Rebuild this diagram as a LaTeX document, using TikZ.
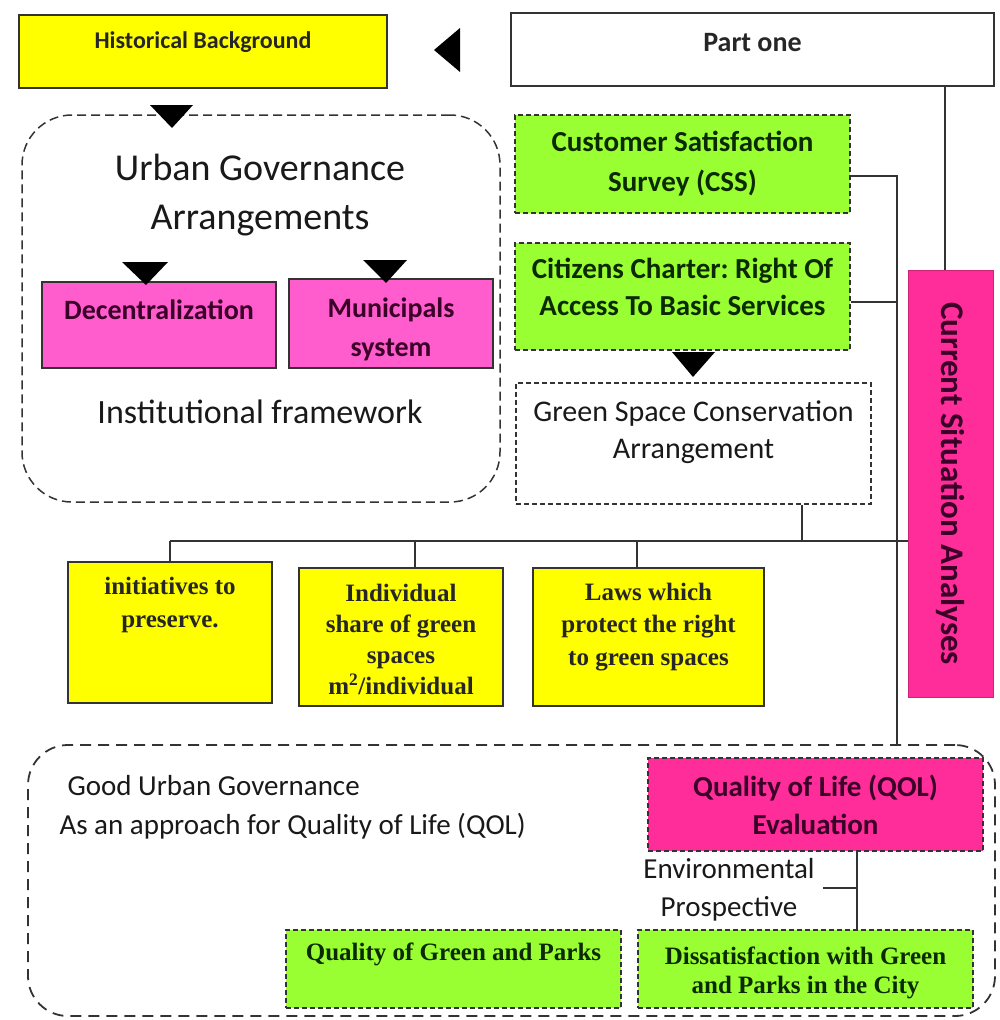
\documentclass[tikz,border=0pt]{standalone}
\usepackage{fontspec}
\usepackage{graphicx}
\setmainfont{Carlito}
\newfontfamily\tnr{Liberation Serif}
\definecolor{ylw}{HTML}{FFFF00}
\definecolor{lpink}{HTML}{FF5CCD}
\definecolor{hpink}{HTML}{FF2D9A}
\definecolor{lime}{HTML}{99FF33}
\definecolor{dgreen}{HTML}{0C2A00}
\definecolor{dpink}{HTML}{3A0028}
\definecolor{edge}{HTML}{333333}
\newcommand{\fs}[2]{\fontsize{#1}{#2}\selectfont}
\frenchspacing
\begin{document}
\begin{tikzpicture}[x=1pt,y=-1pt,
  solidbox/.style={draw=edge, line width=1.4pt, inner sep=0pt, align=center},
  dbox/.style={draw=edge, line width=1.2pt, dash pattern=on 5pt off 3pt, inner sep=0pt, align=center},
  bigdash/.style={draw=edge, line width=1.5pt, dash pattern=on 9pt off 5pt, inner sep=0pt},
  conn/.style={draw=edge, line width=1.2pt},
  tri/.style={fill=black},
  cal/.style={font=\bfseries\fs{28}{39}},
  tms/.style={font=\tnr\bfseries\fs{25}{31}},
]
\useasboundingbox (0,0) rectangle (999,1020);

% top row
\node[solidbox, fill=ylw, minimum width=368pt, minimum height=73pt, font=\bfseries\fs{24}{28}, text=black!85] (hist) at (203,51.5) {\raisebox{22pt}{Historical Background}};
\node[solidbox, fill=white, minimum width=483pt, minimum height=73pt, font=\bfseries\fs{28}{32}, text=black!85] (partone) at (752.5,49.5) {\raisebox{14pt}{Part one}};
\fill[tri] (434,50) -- (460,28) -- (460,72) -- cycle;

% Urban governance group
\node[bigdash, rounded corners=50pt, minimum width=478pt, minimum height=387pt] (ug) at (261,308.5) {};
\fill[tri] (150,105) -- (193,105) -- (172,128) -- cycle;
\node[align=center, font=\fs{38}{49}, text=black!90] (ugt) at (260,195) {Urban Governance\\Arrangements};
\node[solidbox, fill=lpink, minimum width=234pt, minimum height=86pt, cal, text=dpink] (dec) at (159,325)
  {\parbox[c][86pt][t]{234pt}{\centering\vspace*{18pt}Decentralization}};
\node[solidbox, fill=lpink, minimum width=204pt, minimum height=89pt, cal, text=dpink] (mun) at (391,323.5)
  {\parbox[c][89pt][t]{204pt}{\centering\vspace*{19pt}Municipals\\system}};
\fill[tri] (122,262) -- (168,262) -- (146,285) -- cycle;
\fill[tri] (363,260) -- (407,260) -- (386,283) -- cycle;
\node[font=\fs{34}{36}, text=black!90] (inst) at (260,412) {Institutional framework};

% right column
\node[dbox, fill=lime, minimum width=335pt, minimum height=98pt, font=\bfseries\fs{29}{40}, text=dgreen] (css) at (682.5,164) {Customer Satisfaction\\Survey (CSS)};
\node[dbox, fill=lime, minimum width=335pt, minimum height=107pt, font=\bfseries\fs{29}{37}, text=dgreen] (cit) at (682.5,296.5)
  {\parbox[c][107pt][t]{335pt}{\centering\vspace*{15pt}Citizens Charter: Right Of\\Access To Basic Services}};
\fill[tri] (672,352) -- (715,352) -- (693,377) -- cycle;
\node[dbox, fill=white, minimum width=355pt, minimum height=121pt, font=\fs{30}{37}, text=black!90] (gsc) at (693.5,443.5)
  {\parbox[c][121pt][t]{355pt}{\centering\vspace*{18pt}Green Space Conservation\\Arrangement}};
\node[solidbox, draw=hpink!80!black, line width=0.8pt, fill=hpink, minimum width=85pt, minimum height=427pt, font=\bfseries\fs{33}{36}, text=dpink] (csa) at (950.5,483.5) {\rotatebox{-90}{Current Situation Analyses}};

% yellow middle row
\node[solidbox, fill=ylw, minimum width=204pt, minimum height=141pt, tms, text=black!85] (ini) at (170,632.5)
  {\parbox[c][141pt][t]{204pt}{\centering\vspace*{15pt}initiatives to\\[2pt]preserve.}};
\node[solidbox, fill=ylw, minimum width=204pt, minimum height=138pt, tms, text=black!85] (ind) at (401,637)
  {\parbox[c][138pt][t]{204pt}{\centering\vspace*{16pt}Individual\\share of green\\spaces\\m\textsuperscript{2}/individual}};
\node[solidbox, fill=ylw, minimum width=231pt, minimum height=138pt, tms, font=\tnr\bfseries\fs{25}{32.5}, text=black!85] (law) at (648.5,637)
  {\parbox[c][138pt][t]{231pt}{\centering\vspace*{15pt}Laws which\\protect the right\\to green spaces}};

% bottom group
\node[bigdash, line width=1.8pt, dash pattern=on 11pt off 7pt, rounded corners=40pt, minimum width=967pt, minimum height=271pt] (good) at (511.5,880.5) {};
\node[anchor=west, align=left, font=\fs{29}{39}, text=black!90] (goodt) at (56,807.5) {\hspace{8pt}Good Urban Governance\\As an approach for Quality of Life (QOL)};
\node[dbox, fill=hpink, minimum width=335pt, minimum height=93pt, font=\bfseries\fs{29}{38}, text=dpink] (qol) at (815.5,804.5) {Quality of Life (QOL)\\Evaluation};
\node[align=center, font=\fs{29}{38}, text=black!90] (env) at (729,890) {Environmental\\Prospective};
\node[dbox, fill=lime, minimum width=335pt, minimum height=78pt, tms, text=dgreen] (qgp) at (453.5,969)
  {\parbox[c][78pt][t]{335pt}{\centering\vspace*{13pt}Quality of Green and Parks}};
\node[dbox, fill=lime, minimum width=335pt, minimum height=78pt, tms, font=\tnr\bfseries\fs{25}{29}, text=dgreen] (dis) at (805.5,969)
  {\parbox[c][78pt][t]{335pt}{\centering\vspace*{17pt}Dissatisfaction with Green\\and Parks in the City}};

% connectors
\coordinate (xa) at (945,0);
\coordinate (xb) at (897,0);
\coordinate (xc) at (802,0);
\coordinate (xd) at (857,0);
\coordinate (hy) at (0,541);
\coordinate (hy2) at (0,888);
\coordinate (ex) at (823,0);
\draw[conn] (partone.south -| xa) -- (csa.north -| xa);
\draw[conn] ([yshift=-12pt]css.east) -| (xb |- good.north);
\draw[conn] ([yshift=-5.5pt]cit.east) -- ([yshift=-5.5pt]cit.east -| xb);
\draw[conn] (gsc.south -| xc) -- (xc |- hy);
\draw[conn] (hy -| ini.north) -- (hy -| csa.west);
\draw[conn] (hy -| ini.north) -- (ini.north);
\draw[conn] (hy -| 415,0) -- (ind.north -| 415,0);
\draw[conn] (hy -| 637,0) -- (law.north -| 637,0);
\draw[conn] (qol.south -| xd) -- (dis.north -| xd);
\draw[conn] (hy2 -| ex) -- (hy2 -| xd);
\end{tikzpicture}
\end{document}
